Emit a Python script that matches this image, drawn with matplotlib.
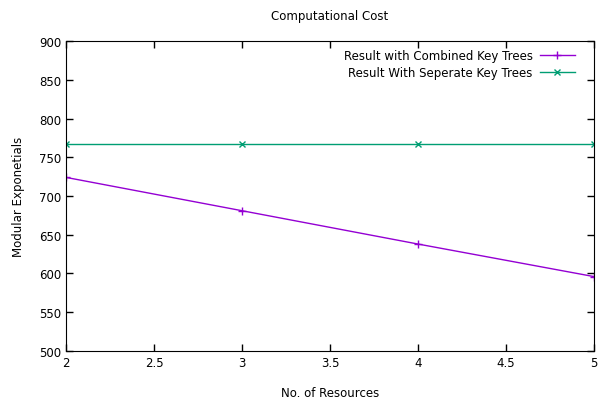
import numpy as np
import matplotlib.pyplot as plt

resources = [2, 3, 4, 5]
combined = [724, 681, 638, 596]
separate = [767, 767, 767, 767]

plt.rcParams['font.family'] = ['DejaVu Sans']
plt.rcParams['font.size'] = 8.5

fig = plt.figure(figsize=(5.99, 4.02), dpi=100)
ax = fig.add_axes([0.1102, 0.1244, 0.8815, 0.7711])

ax.plot(resources, combined, color='#9400D3', marker='+', markersize=6, linewidth=1,
        label='Result with Combined Key Trees')
ax.plot(resources, separate, color='#009E73', marker='x', markersize=4.5, linewidth=1,
        label='Result With Seperate Key Trees')

ax.set_xlim(2, 5)
ax.set_ylim(500, 900)
ax.set_xticks(np.arange(2, 5.01, 0.5))
ax.set_xticklabels(['2', '2.5', '3', '3.5', '4', '4.5', '5'])
ax.set_yticks(np.arange(500, 901, 50))
ax.tick_params(direction='in', top=True, right=True, length=5, width=1)

ax.set_title('Computational Cost', fontsize=8.5, pad=15.5)
ax.set_xlabel('No. of Resources', labelpad=12)
ax.set_ylabel('Modular Exponetials', labelpad=10)

ax.legend(loc='upper right', bbox_to_anchor=(0.98, 1.0), frameon=False, markerfirst=False,
          handlelength=3, borderaxespad=0.3, labelspacing=0.3, fontsize=8.5,
          handletextpad=0.6)

fig.savefig('out.png')
